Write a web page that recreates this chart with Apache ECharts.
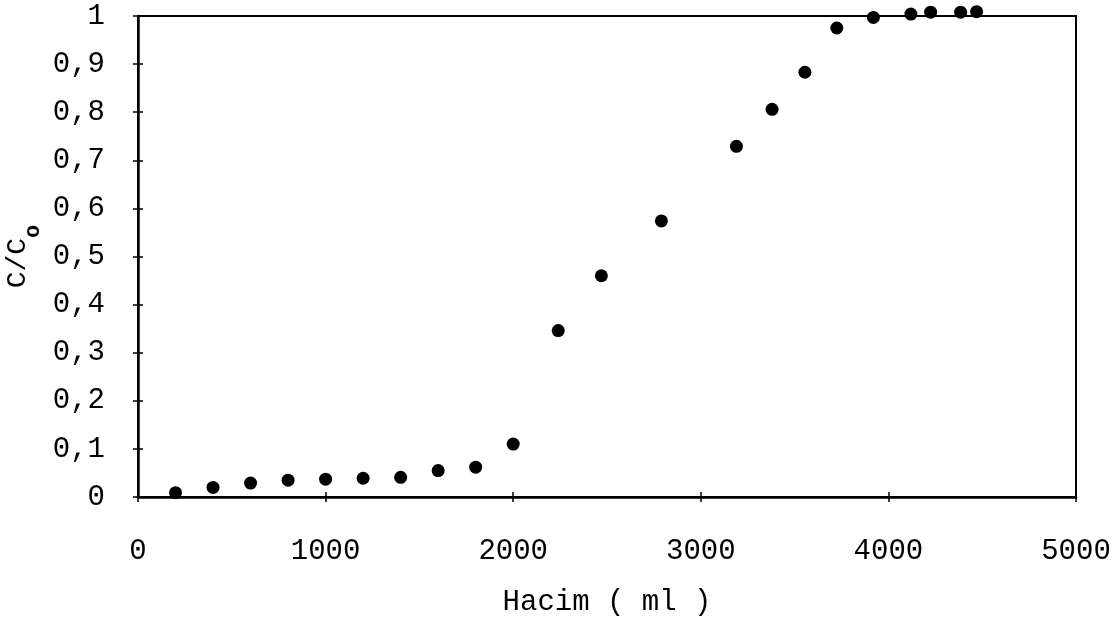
<!DOCTYPE html>
<html><head><meta charset="utf-8">
<script src="https://cdn.jsdelivr.net/npm/echarts@6/dist/echarts.min.js"></script>
<style>html,body{margin:0;padding:0;background:#fff}#c{width:1120px;height:621px}</style>
</head><body><div id="c"></div>
<script>
const volume = [200, 400, 600, 800, 1000, 1200, 1400, 1600, 1800, 2000, 2240, 2470, 2790, 3190, 3380, 3555, 3725, 3920, 4120, 4225, 4385, 4470];
const ratio  = [0.009, 0.02, 0.029, 0.035, 0.037, 0.039, 0.041, 0.055, 0.062, 0.11, 0.346, 0.46, 0.574, 0.729, 0.806, 0.883, 0.975, 0.997, 1.004, 1.008, 1.008, 1.009];
const yTicks = ['0','0,1','0,2','0,3','0,4','0,5','0,6','0,7','0,8','0,9','1'];
const xTicks = ['0','1000','2000','3000','4000','5000'];
const xName = 'Hacim ( ml )';

const font = 'Liberation Mono, Courier New, monospace';
const chart = echarts.init(document.getElementById('c'));
const xBase = {type:'value', min:0, max:5000, interval:1000, gridIndex:0};
const yBase = {type:'value', min:0, max:1, interval:0.1, gridIndex:0};
chart.setOption({
  backgroundColor:'#fff',
  animation:false,
  grid:{left:138, right:44, top:16, bottom:124, containLabel:false, outerBoundsMode:'none',
        show:true, borderColor:'#000', borderWidth:2, backgroundColor:'transparent'},
  xAxis:[
    Object.assign({}, xBase, {
      position:'bottom',
      name:xName, nameLocation:'middle', nameGap:91, nameMoveOverlap:false,
      nameTextStyle:{fontFamily:font, fontSize:29, color:'#000'},
      axisLine:{show:true, lineStyle:{color:'#000', width:2.5}},
      axisTick:{show:true, inside:false, length:5, lineStyle:{color:'#000', width:1.5}},
      axisLabel:{fontFamily:font, fontSize:29, color:'#000', margin:40,
        formatter:(v)=>xTicks[Math.round(v/1000)]},
      splitLine:{show:false}
    }),
    Object.assign({}, xBase, {
      position:'bottom',
      axisLine:{show:false},
      axisTick:{show:true, inside:true, length:5, lineStyle:{color:'#000', width:1.5}},
      axisLabel:{show:false}, splitLine:{show:false}
    })
  ],
  yAxis:[
    Object.assign({}, yBase, {
      position:'left',
      name:'{a|C/C}{b|o}', nameLocation:'middle', nameGap:94, nameRotate:90, nameMoveOverlap:false,
      nameTextStyle:{rich:{
        a:{fontFamily:font, fontSize:28, color:'#000', verticalAlign:'top', lineHeight:30},
        b:{fontFamily:font, fontSize:22, fontWeight:'bold', color:'#000', verticalAlign:'bottom', lineHeight:40}
      }},
      axisLine:{show:true, lineStyle:{color:'#000', width:2.5}},
      axisTick:{show:true, inside:false, length:5, lineStyle:{color:'#000', width:1.5}},
      axisLabel:{fontFamily:font, fontSize:29, color:'#000', margin:33,
        formatter:(v)=>yTicks[Math.round(v*10)]},
      splitLine:{show:false}
    }),
    Object.assign({}, yBase, {
      position:'left',
      axisLine:{show:false},
      axisTick:{show:true, inside:true, length:5, lineStyle:{color:'#000', width:1.5}},
      axisLabel:{show:false}, splitLine:{show:false}
    })
  ],
  series:[{
    type:'scatter', xAxisIndex:0, yAxisIndex:0,
    data: volume.map((v,i)=>[v, ratio[i]]),
    symbol:'circle', symbolSize:13, clip:false,
    itemStyle:{color:'#000', opacity:1}
  }]
});
</script></body></html>
